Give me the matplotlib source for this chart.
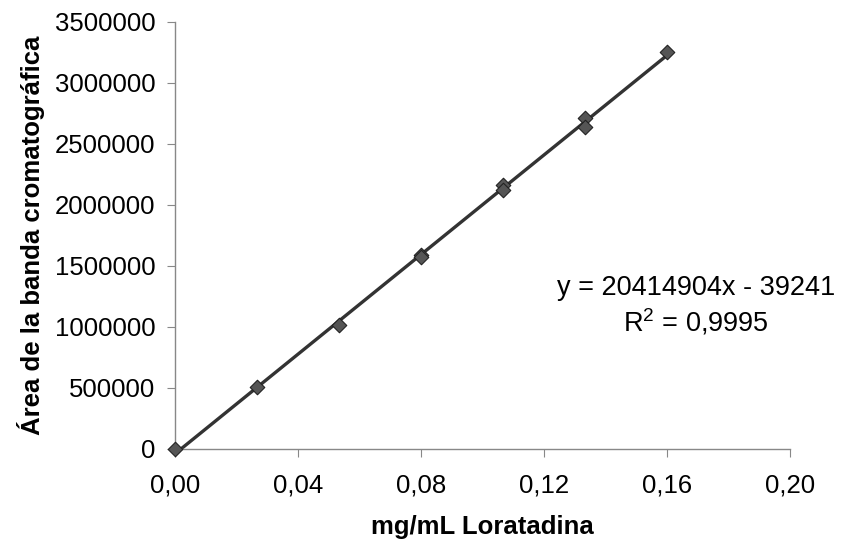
import numpy as np
import matplotlib
matplotlib.use("Agg")
import matplotlib.pyplot as plt
from matplotlib.ticker import FuncFormatter

# data
conc = [0.0, 0.0267, 0.0533, 0.08, 0.08, 0.1067, 0.1067, 0.1333, 0.1333, 0.16]
area = [0, 510000, 1020000, 1590000, 1570000, 2160000, 2120000, 2710000, 2640000, 3250000]
slope = 20414904
intercept = -39241
r2_text = "0,9995"

plt.rcParams['font.family'] = ['Liberation Sans', 'DejaVu Sans']

fig = plt.figure(figsize=(8.46, 5.47), dpi=100)
ax = fig.add_axes([0.2069, 0.1792, 0.727, 0.7806])

xl = np.array([0, max(conc)])
ax.plot(xl, slope * xl + intercept, color="#333333", lw=2.4, zorder=2)
ax.scatter(conc, area, marker="D", s=55, facecolor="#555555", edgecolor="#222222",
           linewidths=0.8, zorder=3, clip_on=False)

ax.set_xlim(0, 0.20)
ax.set_ylim(0, 3500000)
ax.set_xticks(np.arange(0, 0.201, 0.04))
ax.set_yticks(np.arange(0, 3500001, 500000))
ax.xaxis.set_major_formatter(FuncFormatter(lambda v, p: f"{v:.2f}".replace(".", ",")))
ax.yaxis.set_major_formatter(FuncFormatter(lambda v, p: f"{int(v)}"))

for s in ["top", "right"]:
    ax.spines[s].set_visible(False)
for s in ["left", "bottom"]:
    ax.spines[s].set_color("#888888")
    ax.spines[s].set_linewidth(1.0)
ax.tick_params(direction="out", length=6, color="#888888", labelsize=18.5)
ax.tick_params(axis="y", pad=8)
ax.tick_params(axis="x", pad=12)

ax.set_xlabel("mg/mL Loratadina", fontsize=18.5, fontweight="bold", labelpad=12)
ax.set_ylabel("Área de la banda cromatográfica", fontsize=18.5, fontweight="bold", labelpad=7)

fig.text(0.823, 0.44, f"y = {slope}x - {abs(intercept)}\n$\\mathregular{{R^2}}$ = {r2_text}",
         ha="center", va="center", fontsize=19.5, linespacing=1.2)

fig.savefig("out.png", dpi=100)
